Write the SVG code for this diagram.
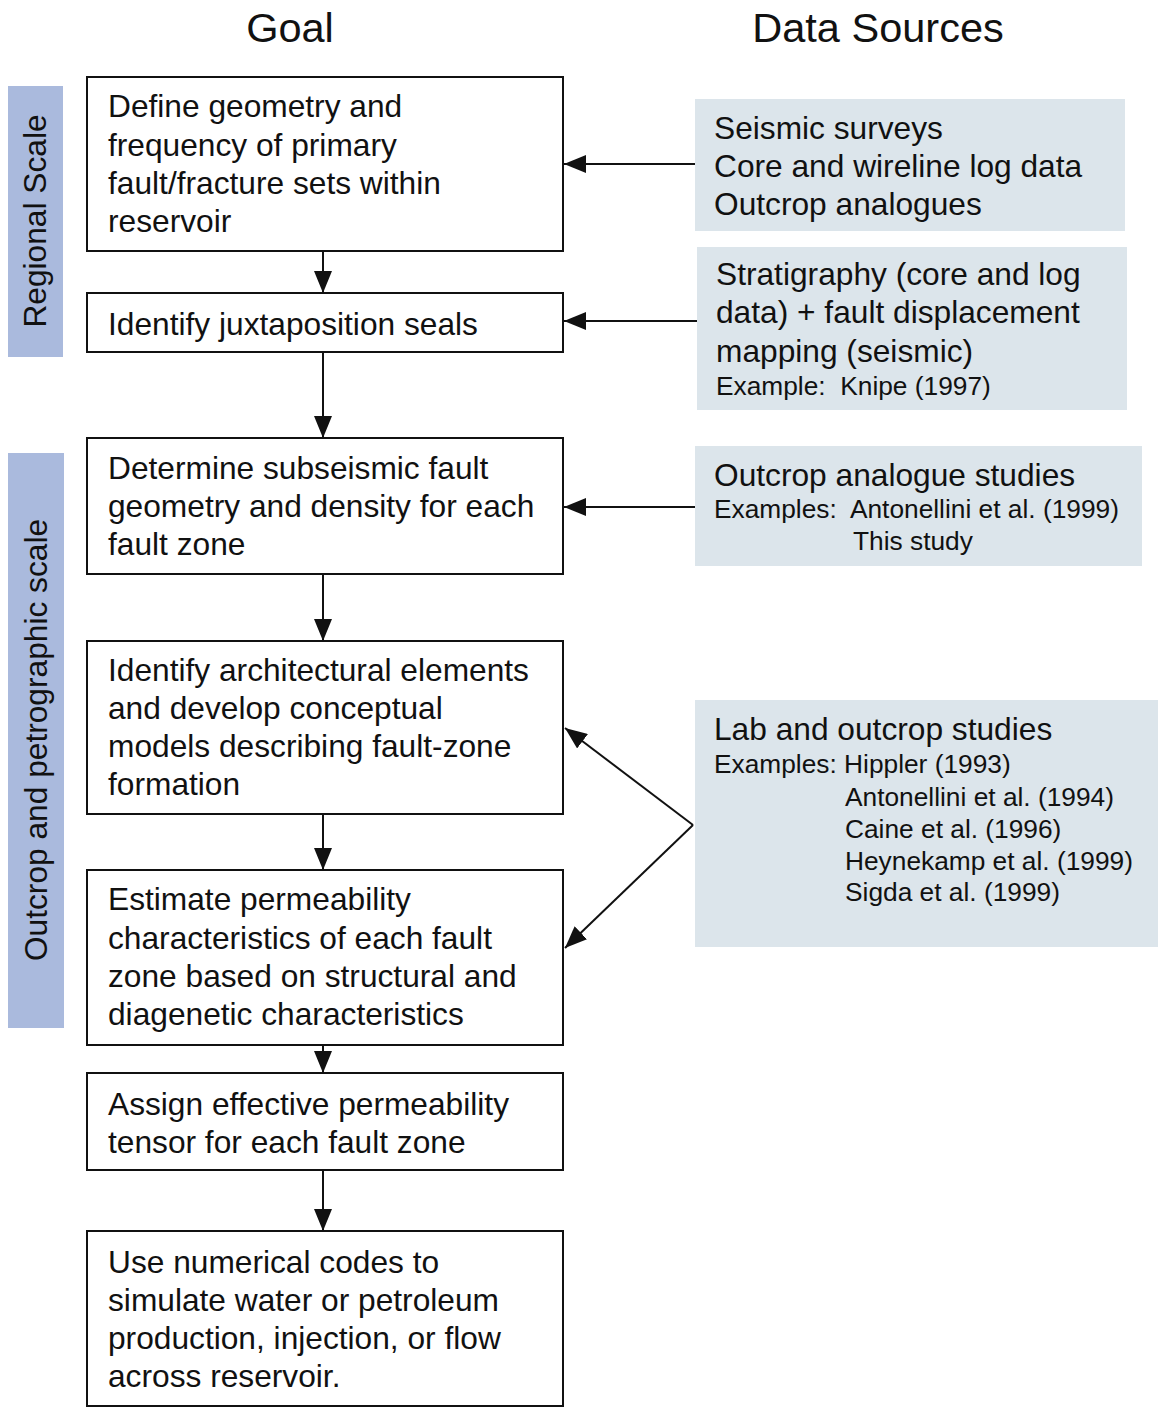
<svg xmlns="http://www.w3.org/2000/svg" width="1158" height="1411" viewBox="0 0 1158 1411">
<style>
text{font-family:"Liberation Sans",Arial,sans-serif;fill:#111}
.h{font-size:41.5px}
.t{font-size:31.7px}
.s{font-size:26.3px;white-space:pre}
.box{fill:#fff;stroke:#111;stroke-width:2}
.src{fill:#dce5eb}
.bar{fill:#aabadd}
.c{stroke:#111;stroke-width:2;fill:none}
</style>
<defs>
<marker id="ah" viewBox="0 0 22 18" refX="22" refY="9" markerWidth="22" markerHeight="18" orient="auto" markerUnits="userSpaceOnUse"><path d="M0,0 L22,9 L0,18 z" fill="#111"/></marker>
</defs>
<rect width="1158" height="1411" fill="#fff"/>
<g id="headers">
<text class="h" x="290" y="42" text-anchor="middle">Goal</text>
<text class="h" x="878" y="42" text-anchor="middle">Data Sources</text>
</g>
<g id="regional-scale">
<rect class="bar" x="8" y="86" width="55" height="271"/>
<text class="t" transform="translate(46,221) rotate(-90)" text-anchor="middle">Regional Scale</text>
</g>
<g id="outcrop-scale">
<rect class="bar" x="8" y="453" width="56" height="575"/>
<text class="t" transform="translate(47,740) rotate(-90)" text-anchor="middle">Outcrop and petrographic scale</text>
</g>
<g id="n1">
<rect class="box" x="87" y="77" width="476" height="174"/>
<text class="t" x="108" y="117">Define geometry and</text>
<text class="t" x="108" y="156">frequency of primary</text>
<text class="t" x="108" y="194">fault/fracture sets within</text>
<text class="t" x="108" y="232">reservoir</text>
</g>
<g id="n2">
<rect class="box" x="87" y="293" width="476" height="59"/>
<text class="t" x="108" y="335">Identify juxtaposition seals</text>
</g>
<g id="n3">
<rect class="box" x="87" y="438" width="476" height="136"/>
<text class="t" x="108" y="479">Determine subseismic fault</text>
<text class="t" x="108" y="517">geometry and density for each</text>
<text class="t" x="108" y="555">fault zone</text>
</g>
<g id="n4">
<rect class="box" x="87" y="641" width="476" height="173"/>
<text class="t" x="108" y="681">Identify architectural elements</text>
<text class="t" x="108" y="719">and develop conceptual</text>
<text class="t" x="108" y="757">models describing fault-zone</text>
<text class="t" x="108" y="795">formation</text>
</g>
<g id="n5">
<rect class="box" x="87" y="870" width="476" height="175"/>
<text class="t" x="108" y="910">Estimate permeability</text>
<text class="t" x="108" y="949">characteristics of each fault</text>
<text class="t" x="108" y="987">zone based on structural and</text>
<text class="t" x="108" y="1025">diagenetic characteristics</text>
</g>
<g id="n6">
<rect class="box" x="87" y="1073" width="476" height="97"/>
<text class="t" x="108" y="1115">Assign effective permeability</text>
<text class="t" x="108" y="1153">tensor for each fault zone</text>
</g>
<g id="n7">
<rect class="box" x="87" y="1231" width="476" height="175"/>
<text class="t" x="108" y="1273">Use numerical codes to</text>
<text class="t" x="108" y="1311">simulate water or petroleum</text>
<text class="t" x="108" y="1349">production, injection, or flow</text>
<text class="t" x="108" y="1387">across reservoir.</text>
</g>
<g id="s1">
<rect class="src" x="695" y="99" width="430" height="132"/>
<text class="t" x="714" y="139">Seismic surveys</text>
<text class="t" x="714" y="177">Core and wireline log data</text>
<text class="t" x="714" y="215">Outcrop analogues</text>
</g>
<g id="s2">
<rect class="src" x="697" y="247" width="430" height="163"/>
<text class="t" x="716" y="285">Stratigraphy (core and log</text>
<text class="t" x="716" y="323">data) + fault displacement</text>
<text class="t" x="716" y="362">mapping (seismic)</text>
<text class="s" x="716" y="395" xml:space="preserve">Example:  Knipe (1997)</text>
</g>
<g id="s3">
<rect class="src" x="695" y="446" width="447" height="120"/>
<text class="t" x="714" y="486">Outcrop analogue studies</text>
<text class="s" x="714" y="518" xml:space="preserve">Examples:  Antonellini et al. (1999)</text>
<text class="s" x="853" y="550">This study</text>
</g>
<g id="s4">
<rect class="src" x="695" y="700" width="463" height="247"/>
<text class="t" x="714" y="740">Lab and outcrop studies</text>
<text class="s" x="714" y="773">Examples: Hippler (1993)</text>
<text class="s" x="845" y="806">Antonellini et al. (1994)</text>
<text class="s" x="845" y="838">Caine et al. (1996)</text>
<text class="s" x="845" y="870">Heynekamp et al. (1999)</text>
<text class="s" x="845" y="901">Sigda et al. (1999)</text>
</g>
<g id="connectors">
<line class="c" x1="323" y1="251" x2="323" y2="293" marker-end="url(#ah)"/>
<line class="c" x1="323" y1="352" x2="323" y2="438" marker-end="url(#ah)"/>
<line class="c" x1="323" y1="574" x2="323" y2="641" marker-end="url(#ah)"/>
<line class="c" x1="323" y1="814" x2="323" y2="870" marker-end="url(#ah)"/>
<line class="c" x1="323" y1="1045" x2="323" y2="1073" marker-end="url(#ah)"/>
<line class="c" x1="323" y1="1170" x2="323" y2="1231" marker-end="url(#ah)"/>
<line class="c" x1="695" y1="164" x2="564" y2="164" marker-end="url(#ah)"/>
<line class="c" x1="697" y1="321" x2="564" y2="321" marker-end="url(#ah)"/>
<line class="c" x1="695" y1="507" x2="564" y2="507" marker-end="url(#ah)"/>
<line class="c" x1="693" y1="825" x2="565" y2="728" marker-end="url(#ah)"/>
<line class="c" x1="693" y1="825" x2="565" y2="948" marker-end="url(#ah)"/>
</g>
</svg>
